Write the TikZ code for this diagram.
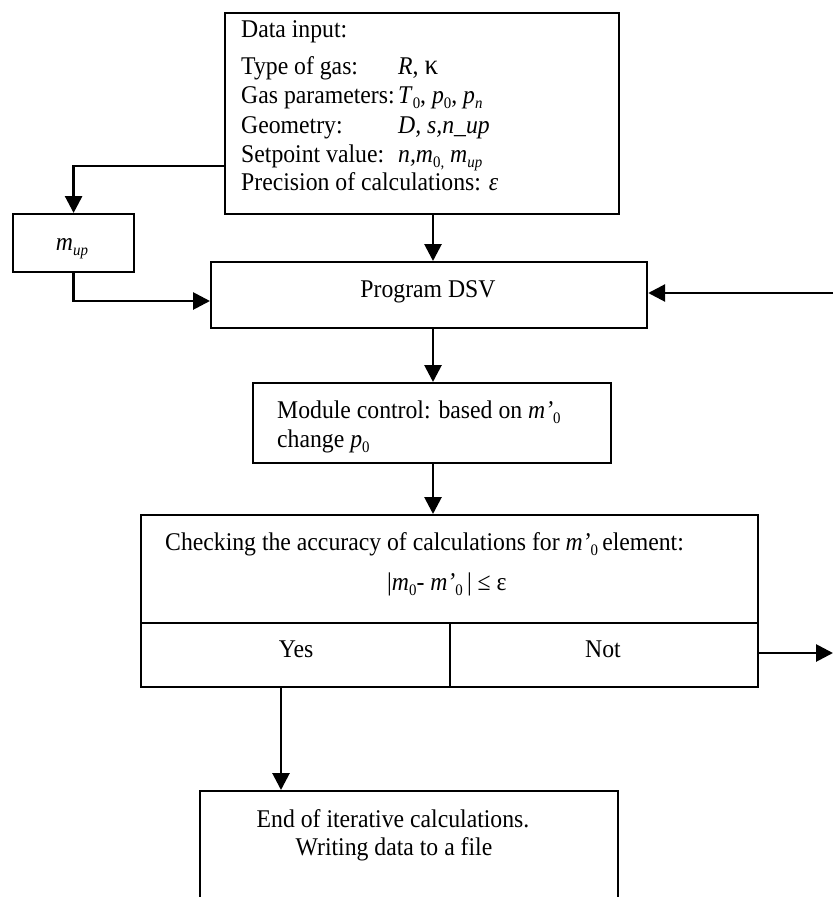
\documentclass[tikz,border=0pt]{standalone}
\usepackage{fontspec}
\setmainfont{Liberation Serif}[FakeStretch=0.93]
\usetikzlibrary{arrows.meta}
\newcommand\sbx[1]{\raisebox{-0.22em}{\fontsize{16}{16}\selectfont #1}}
\begin{document}
\begin{tikzpicture}[x=1pt,y=-1pt,
  box/.style={draw,line width=2.2pt,inner sep=0pt},
  txt/.style={inner sep=0pt,font=\fontsize{25.5}{29}\selectfont},
  arr/.style={line width=2.8pt,-{Triangle[length=17pt,width=17pt]}},
]
\useasboundingbox (0,0) rectangle (833,897);
\clip (0,0) rectangle (833,897);
% boxes
\node[box,minimum width=394pt,minimum height=201pt,anchor=north west] (data) at (224,12) {};
\node[box,minimum width=121pt,minimum height=58pt,anchor=north west] (mup) at (12,213) {};
\node[box,minimum width=436pt,minimum height=66pt,anchor=north west] (program) at (210,261) {};
\node[box,minimum width=358pt,minimum height=80pt,anchor=north west] (module) at (252,382) {};
\node[box,minimum width=617pt,minimum height=108pt,anchor=north west] (check) at (140,514) {};
\node[box,minimum width=309pt,minimum height=64pt,anchor=north west] (yes) at (140,622) {};
\node[box,minimum width=308pt,minimum height=64pt,anchor=north west] (no) at (449,622) {};
\node[box,minimum width=418pt,minimum height=140pt,anchor=north west] (endbox) at (199,790) {};
% data input texts
\node[txt,anchor=base west] (d0) at (241,37) {Data input:};
\node[txt,anchor=base west] (d1) at (241,74) {Type of gas:};
\node[txt,anchor=base west] (d2) at (241,103) {Gas parameters:};
\node[txt,anchor=base west] (d3) at (241,133) {Geometry:};
\node[txt,anchor=base west] (d4) at (241,162) {Setpoint value:};
\node[txt,anchor=base west] (d5) at (241,190) {Precision of calculations: \textit{ε}};
\node[txt,anchor=base west] (v1) at (398,74) {\textit{R}, {\fontsize{29}{29}\selectfont κ}};
\node[txt,anchor=base west] (v2) at (398,103) {\textit{T}\sbx{0}, \textit{p}\sbx{0}, \textit{p}\sbx{\textit{n}}};
\node[txt,anchor=base west] (v3) at (398,133) {\textit{D, s,n\_up}};
\node[txt,anchor=base west] (v4) at (398,162) {\textit{n,m}\sbx{0,} \textit{m}\sbx{\textit{up}}};
% other texts
\node[txt,anchor=base] (mupt) at (72,250) {\textit{m}\sbx{\textit{up}}};
\node[txt,anchor=base] (progt) at (428,297) {Program DSV};
\node[txt,anchor=base west] (mod1) at (277,418) {Module control: based on \textit{m’}\sbx{0}};
\node[txt,anchor=base west] (mod2) at (277,447) {change \textit{p}\sbx{0}};
\node[txt,anchor=base west] (chk1) at (165,550) {Checking the accuracy of calculations for \textit{m’}\sbx{0}\,element:};
\node[txt,anchor=base west] (chk2) at (387,590) {|\textit{m}\sbx{0}- \textit{m’}\sbx{0}\,| ≤ ε};
\node[txt,anchor=base] (yest) at (296,657) {Yes};
\node[txt,anchor=base] (not) at (603,657) {Not};
\node[txt,anchor=base] (end1) at (393,827) {End of iterative calculations.};
\node[txt,anchor=base] (end2) at (394,855) {Writing data to a file};
% helper coordinates
\coordinate (ax) at (433,0);
\coordinate (ay) at (0,166);
\coordinate (by) at (0,301);
\coordinate (yx) at (281,0);
\coordinate (rin) at (833,293);
\coordinate (nout) at (833,653);
% connectors
\draw[arr] (data.west |- ay) -| (mup.north);
\draw[arr] (mup.south) |- (program.west |- by);
\draw[arr] (data.south -| ax) -- (program.north -| ax);
\draw[arr] (program.south -| ax) -- (module.north -| ax);
\draw[arr] (module.south -| ax) -- (check.north -| ax);
\draw[arr] (rin) -- (program.east |- rin);
\draw[arr] (no.east |- nout) -- (nout);
\draw[arr] (yes.south -| yx) -- (endbox.north -| yx);
\end{tikzpicture}
\end{document}
